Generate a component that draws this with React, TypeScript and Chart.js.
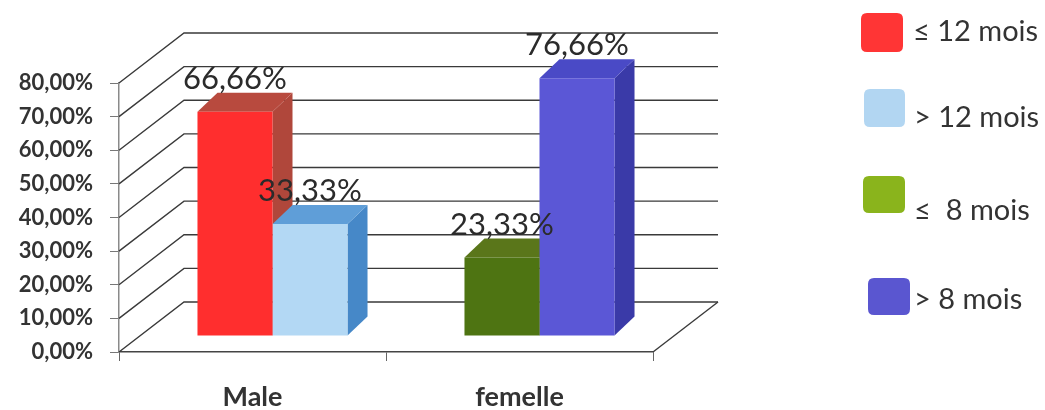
import React, { useEffect, useRef } from "react";
import { Chart, registerables } from "chart.js";

Chart.register(...registerables);

// ---- data ----
const CATEGORIES = ["Male", "femelle"];
const SERIES_LABELS = ["\u2264 12 mois", "> 12 mois", "\u2264  8 mois", "> 8 mois"];
const LE_12_MOIS = [66.66, null];
const GT_12_MOIS = [33.33, null];
const LE_8_MOIS = [null, 23.33];
const GT_8_MOIS = [null, 76.66];
const Y_MIN = 0;
const Y_MAX = 80;
const Y_STEP = 10;

// ---- styles ----
const FRONT = ["#ff2e2e", "#b3d8f4", "#4e7412", "#5b57d6"];
const TOP = ["#b84a3e", "#5f9ed8", "#5a761a", "#4a4ac6"];
const SIDE = ["#b0473b", "#4688c8", "#44600e", "#3a3aa8"];
const LEGEND_COLORS = ["#ff3535", "#b2d6f2", "#8ab41c", "#5a56d0"];
const LEGEND_LAYOUT = [
  { bx: 861, by: 13, bw: 42, bh: 39, tx: 913, ty: 32 },
  { bx: 864, by: 89, bw: 41, bh: 38, tx: 914, ty: 118 },
  { bx: 863, by: 176, bw: 42, bh: 37, tx: 914, ty: 211 },
  { bx: 868, by: 278, bw: 42, bh: 37, tx: 914, ty: 300 },
];
const WALL_DX = 65;
const WALL_DY = -50;
const BAR_SHIFT_X = 20;
const BAR_SHIFT_Y = -16;
const BAR_DX = 20;
const BAR_DY = -19;

const fmt = (v: number) => v.toFixed(2).replace(".", ",") + "%";

function roundRect(ctx: CanvasRenderingContext2D, x: number, y: number, w: number, h: number, r: number) {
  ctx.beginPath();
  ctx.moveTo(x + r, y);
  ctx.lineTo(x + w - r, y);
  ctx.quadraticCurveTo(x + w, y, x + w, y + r);
  ctx.lineTo(x + w, y + h - r);
  ctx.quadraticCurveTo(x + w, y + h, x + w - r, y + h);
  ctx.lineTo(x + r, y + h);
  ctx.quadraticCurveTo(x, y + h, x, y + h - r);
  ctx.lineTo(x, y + r);
  ctx.quadraticCurveTo(x, y, x + r, y);
  ctx.closePath();
}

function collectBars(chart: any) {
  const bars: any[] = [];
  chart.data.datasets.forEach((ds: any, di: number) => {
    const meta = chart.getDatasetMeta(di);
    meta.data.forEach((el: any, i: number) => {
      const v = ds.data[i];
      if (v === null || v === undefined) return;
      if (!isFinite(el.x) || !isFinite(el.y)) return;
      bars.push({ el, di, v });
    });
  });
  bars.sort((a, b) => a.el.x - b.el.x);
  return bars;
}

const threeDPlugin = {
  id: "threeD",
  beforeDatasetsDraw(chart: any) {
    const { ctx, chartArea } = chart;
    const y = chart.scales.y;
    const { left, right, bottom } = chartArea;
    ctx.save();
    ctx.strokeStyle = "#3a3a3a";
    ctx.lineWidth = 1.4;
    y.ticks.forEach((t: any) => {
      const yp = y.getPixelForValue(t.value);
      ctx.beginPath();
      ctx.moveTo(left, yp);
      ctx.lineTo(left + WALL_DX, yp + WALL_DY);
      ctx.lineTo(right + WALL_DX, yp + WALL_DY);
      ctx.stroke();
    });
    ctx.beginPath();
    ctx.moveTo(right, bottom);
    ctx.lineTo(right + WALL_DX, bottom + WALL_DY);
    ctx.stroke();
    ctx.restore();

    const bars = collectBars(chart);
    ctx.save();
    ctx.translate(BAR_SHIFT_X, BAR_SHIFT_Y);
    bars.forEach(({ el, di }) => {
      const l = el.x - el.width / 2;
      const r = el.x + el.width / 2;
      const top = el.y;
      const base = el.base;
      ctx.fillStyle = SIDE[di];
      ctx.beginPath();
      ctx.moveTo(r, top);
      ctx.lineTo(r + BAR_DX, top + BAR_DY);
      ctx.lineTo(r + BAR_DX, base + BAR_DY);
      ctx.lineTo(r, base);
      ctx.closePath();
      ctx.fill();
      ctx.fillStyle = TOP[di];
      ctx.beginPath();
      ctx.moveTo(l, top);
      ctx.lineTo(l + BAR_DX, top + BAR_DY);
      ctx.lineTo(r + BAR_DX, top + BAR_DY);
      ctx.lineTo(r, top);
      ctx.closePath();
      ctx.fill();
    });
    ctx.restore();

    ctx.save();
    ctx.translate(BAR_SHIFT_X, BAR_SHIFT_Y);
  },
  afterDatasetsDraw(chart: any) {
    const { ctx } = chart;
    ctx.restore();
    const bars = collectBars(chart);
    ctx.save();
    ctx.fillStyle = "#2b2b2b";
    ctx.font = "31px Lato";
    ctx.textAlign = "center";
    ctx.textBaseline = "middle";
    bars.forEach(({ el, v }) => {
      ctx.fillText(fmt(v), el.x + BAR_SHIFT_X, el.y + BAR_SHIFT_Y - 33);
    });
    ctx.restore();
  },
  afterDraw(chart: any) {
    const { ctx } = chart;
    ctx.save();
    ctx.font = "29px Lato";
    ctx.textAlign = "left";
    ctx.textBaseline = "middle";
    chart.data.datasets.forEach((ds: any, i: number) => {
      const L = LEGEND_LAYOUT[i];
      ctx.fillStyle = LEGEND_COLORS[i];
      roundRect(ctx, L.bx, L.by, L.bw, L.bh, 6);
      ctx.fill();
      ctx.fillStyle = "#333333";
      ctx.fillText(ds.label, L.tx, L.ty);
    });
    ctx.restore();
  },
};

export default function App() {
  const ref = useRef<HTMLCanvasElement | null>(null);
  useEffect(() => {
    document.body.style.margin = "0";
    const canvas = ref.current;
    if (!canvas) return;
    const series = [LE_12_MOIS, GT_12_MOIS, LE_8_MOIS, GT_8_MOIS];
    const chart = new Chart(canvas, {
      type: "bar",
      data: {
        labels: CATEGORIES,
        datasets: series.map((d, i) => ({
          label: SERIES_LABELS[i],
          data: d,
          backgroundColor: FRONT[i],
          borderWidth: 0,
          skipNull: true,
          categoryPercentage: 0.562,
          barPercentage: 1,
          clip: false,
        })) as any,
      },
      options: {
        responsive: false,
        animation: false,
        layout: { padding: { left: 0, right: 392, top: 83, bottom: 0 } },
        plugins: { legend: { display: false }, tooltip: { enabled: false } },
        scales: {
          x: {
            grid: { offset: true, drawOnChartArea: false, drawTicks: true, tickLength: 9, color: "#666" },
            border: { color: "#444", width: 1.5 },
            ticks: {
              font: { family: "Lato", weight: "bold", size: 27 },
              color: "#333",
              padding: 20,
              maxRotation: 0,
            },
            afterFit: (s: any) => {
              s.height = 58;
            },
          },
          y: {
            min: Y_MIN,
            max: Y_MAX,
            grid: { drawOnChartArea: false, drawTicks: true, tickLength: 9, color: "#777" },
            border: { color: "#8a8a8a", width: 1.5 },
            ticks: {
              stepSize: Y_STEP,
              font: { family: "Lato", weight: "bold", size: 22 },
              color: "#333",
              padding: 17,
              callback: (v: any) => fmt(Number(v)),
            },
            afterFit: (s: any) => {
              s.width = 119;
            },
          },
        },
      },
      plugins: [threeDPlugin],
    });
    return () => chart.destroy();
  }, []);
  return (
    <div style={{ width: 1045, height: 410, background: "#fff" }}>
      <canvas ref={ref} width={1045} height={410} style={{ display: "block" }} />
    </div>
  );
}
